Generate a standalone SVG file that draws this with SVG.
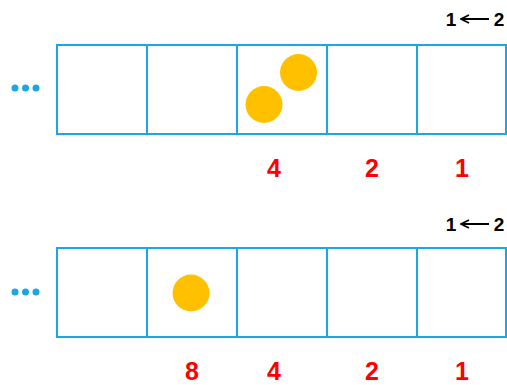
<svg xmlns="http://www.w3.org/2000/svg" width="507" height="385" viewBox="0 0 507 385">
<style>
.cell{fill:#fff;stroke:#1AA7E3;stroke-width:2}
.dot{fill:#1AA7E3}
.ball{fill:#FFC000}
.num{font-family:"Liberation Sans",Arial,sans-serif;font-weight:bold;font-size:25px;fill:#FF0000;text-anchor:middle}
.lbl{font-family:"Liberation Sans",Arial,sans-serif;font-weight:bold;font-size:19px;fill:#000;text-anchor:middle}
.arr{stroke:#000;stroke-width:2;fill:none}
</style>
<defs>
<marker id="ah" viewBox="0 0 10 10" refX="9" refY="5" markerWidth="10" markerHeight="10" markerUnits="userSpaceOnUse" orient="auto">
<path d="M1,1 L9,5 L1,9" stroke="#000" stroke-width="1.6" fill="none"/>
</marker>
</defs>
<g id="row1">
<g id="dots1"><circle class="dot" cx="15" cy="88" r="3.5"/><circle class="dot" cx="25.5" cy="88" r="3.5"/><circle class="dot" cx="36" cy="88" r="3.5"/></g>
<rect class="cell" x="57" y="45" width="90" height="89"/>
<rect class="cell" x="147" y="45" width="90" height="89"/>
<rect class="cell" x="237" y="45" width="90" height="89"/>
<rect class="cell" x="327" y="45" width="90" height="89"/>
<rect class="cell" x="417" y="45" width="89" height="89"/>
<circle class="ball" cx="298.5" cy="72.5" r="18.5"/>
<circle class="ball" cx="264" cy="104.5" r="18.5"/>
<text class="num" x="274" y="177">4</text>
<text class="num" x="372" y="177">2</text>
<text class="num" x="462" y="177">1</text>
<g id="lbl1"><text class="lbl" x="451" y="26">1</text><text class="lbl" x="499" y="26">2</text></g>
</g>
<g id="row2">
<g id="dots2"><circle class="dot" cx="15" cy="292" r="3.5"/><circle class="dot" cx="25.5" cy="292" r="3.5"/><circle class="dot" cx="36" cy="292" r="3.5"/></g>
<rect class="cell" x="57" y="248" width="90" height="89"/>
<rect class="cell" x="147" y="248" width="90" height="89"/>
<rect class="cell" x="237" y="248" width="90" height="89"/>
<rect class="cell" x="327" y="248" width="90" height="89"/>
<rect class="cell" x="417" y="248" width="89" height="89"/>
<circle class="ball" cx="191" cy="293" r="18.5"/>
<text class="num" x="192" y="380">8</text>
<text class="num" x="274" y="380">4</text>
<text class="num" x="372" y="380">2</text>
<text class="num" x="462" y="380">1</text>
<g id="lbl2"><text class="lbl" x="451" y="231">1</text><text class="lbl" x="499" y="231">2</text></g>
</g>
<g id="connectors">
<line class="arr" x1="489" y1="19" x2="461" y2="19" marker-end="url(#ah)"/>
<line class="arr" x1="489" y1="224" x2="461" y2="224" marker-end="url(#ah)"/>
</g>
</svg>
